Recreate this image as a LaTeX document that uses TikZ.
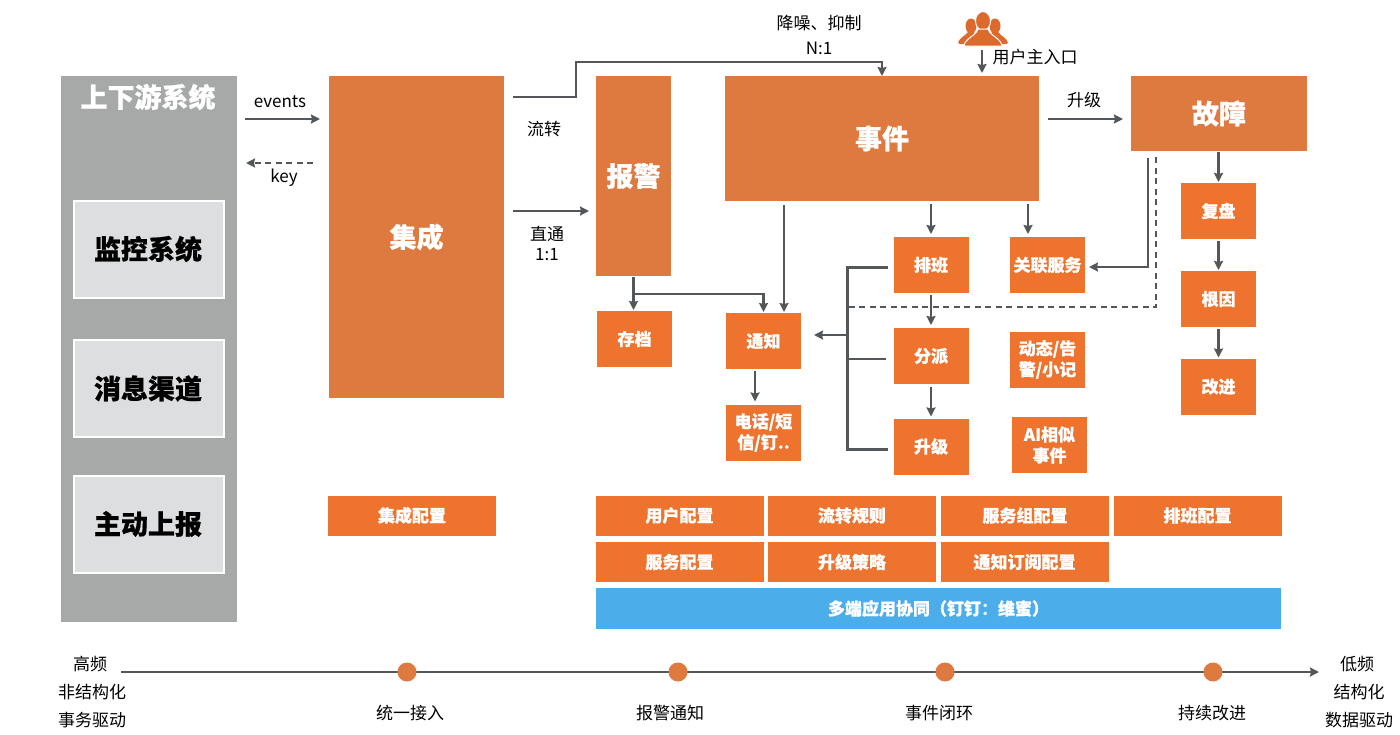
\documentclass[tikz,border=0pt]{standalone}
\usepackage{fontspec}
\setmainfont{Noto Sans CJK SC}[BoldFeatures={FakeBold=0.6}]
\usetikzlibrary{arrows.meta}
\definecolor{bigorange}{HTML}{DE7A40}
\definecolor{smallorange}{HTML}{ED732E}
\definecolor{panelgray}{HTML}{A7A9A9}
\definecolor{innergray}{HTML}{DCDEE0}
\definecolor{linegray}{HTML}{54575A}
\definecolor{bandblue}{HTML}{4BADEA}
\definecolor{dotorange}{HTML}{DE7A40}
\definecolor{iconorange}{HTML}{DB6A2C}
\tikzset{
  box/.style={inner sep=0pt,outer sep=0pt,align=center,text=white,font=\bfseries},
  bigbox/.style={box,fill=bigorange,font=\fontsize{27}{32}\selectfont\bfseries},
  smallbox/.style={box,fill=smallorange,minimum width=75pt,minimum height=56pt,font=\fontsize{17}{21}\selectfont\bfseries},
  confbox/.style={box,fill=smallorange,minimum width=168pt,minimum height=40pt,font=\fontsize{17}{21}\selectfont\bfseries},
  sysbox/.style={box,fill=innergray,draw=white,line width=2pt,minimum width=150pt,minimum height=97pt,text=black,font=\fontsize{27}{32}\selectfont\bfseries},
  lbl/.style={inner sep=0pt,align=center,text=black,font=\fontsize{17}{25}\selectfont},
  flow/.style={draw=linegray,line width=2.6pt,-{Stealth[length=9pt,width=9pt,inset=1pt]}},
  bus/.style={draw=linegray,line width=3pt},
  dashline/.style={draw=linegray,line width=2.4pt,dash pattern=on 6pt off 4.5pt},
  dot/.style={circle,fill=dotorange,inner sep=0pt,minimum size=19pt}
}
\begin{document}
\begin{tikzpicture}[x=1pt,y=-1pt]
\useasboundingbox (0,0) rectangle (1400,734);
\node [box,fill=panelgray,minimum width=176pt,minimum height=546pt] (shangxia) at (149,349) {};
\node [box,font=\fontsize{27}{32}\selectfont\bfseries] (shangxiat) at (148,97) {上下游系统};
\node [sysbox] (jiankong) at (149,249) {\hspace*{-2pt}监控系统};
\node [sysbox] (xiaoxi) at (149,388.5) {\hspace*{-2pt}消息渠道};
\node [sysbox] (zhudong) at (149,524) {\hspace*{-2pt}主动上报};
\node [bigbox,minimum width=175pt,minimum height=322pt] (jicheng) at (416.5,237) {集成};
\node [bigbox,minimum width=75pt,minimum height=200pt] (baojing) at (633.5,176) {报警};
\node [bigbox,minimum width=314pt,minimum height=125pt] (shijian) at (882,138.5) {事件};
\node [bigbox,minimum width=176pt,minimum height=75pt] (guzhang) at (1219,113.5) {故障};
\node [smallbox] (cundang) at (634.5,339) {存档};
\node [smallbox] (tongzhi) at (763.5,341) {通知};
\node [smallbox] (dianhua) at (763.5,432.5) {电话/短\\信/钉..};
\node [smallbox] (paiban) at (931,265) {排班};
\node [smallbox] (fenpai) at (931,356) {分派};
\node [smallbox] (shengji) at (931,446.5) {升级};
\node [smallbox] (guanlian) at (1047.5,265) {关联服务};
\node [smallbox] (dongtai) at (1047.5,359.5) {动态/告\\警/小记};
\node [smallbox] (aisim) at (1049.5,445) {AI相似\\事件};
\node [smallbox] (fupan) at (1218.5,211) {复盘};
\node [smallbox] (genyin) at (1218.5,299) {根因};
\node [smallbox] (gaijin) at (1218.5,386.5) {改进};
\node [confbox] (cjicheng) at (412,515.5) {集成配置};
\node [confbox] (cyonghu) at (679.5,515.5) {用户配置};
\node [confbox] (cliuzhuan) at (852,515.5) {流转规则};
\node [confbox] (cfuwuzu) at (1025,515.5) {服务组配置};
\node [confbox] (cpaiban) at (1197.5,515.5) {排班配置};
\node [confbox] (cfuwu) at (679.5,562) {服务配置};
\node [confbox] (cshengji) at (852,562) {升级策略};
\node [confbox] (cdingyue) at (1024.5,562) {通知订阅配置};
\node [box,fill=bandblue,minimum width=685pt,minimum height=41pt,font=\fontsize{17}{21}\selectfont\bfseries] (duoduan) at (938.5,608.5) {多端应用协同（钉钉：维蜜）};
\node [lbl] (levents) at (280,102) {events};
\node [lbl] (lkey) at (284,178) {key};
\node [lbl] (lliuzhuan) at (544,129) {流转};
\node [lbl,font=\fontsize{17}{20}\selectfont] (lzhitong) at (547,243) {直通\\1:1};
\node [lbl] (ljiangzao) at (819,34.5) {降噪、抑制\\N:1};
\node [lbl] (lrukou) at (1035,57) {用户主入口};
\node [lbl] (lshengji) at (1084,100) {升级};
\node [lbl,font=\fontsize{17}{28}\selectfont] (lgao) at (92,692) {\hspace*{-4pt}高频\\非结构化\\事务驱动};
\node [lbl,font=\fontsize{17}{28}\selectfont] (ldi) at (1359,692) {\hspace*{-4pt}低频\\结构化\\数据驱动};
\node [lbl] (lzhang1) at (410,713) {统一接入};
\node [lbl] (lzhang2) at (670,713) {报警通知};
\node [lbl] (lzhang3) at (939,713) {事件闭环};
\node [lbl] (lzhang4) at (1212,713) {持续改进};
\coordinate (tlstart) at (121,672);
\coordinate (tlend) at (1319,672);
\draw [flow] (tlstart) -- (tlend);
\node [dot] (dot1) at (407,672) {};
\node [dot] (dot2) at (678,672) {};
\node [dot] (dot3) at (945,672) {};
\node [dot] (dot4) at (1213,672) {};
\coordinate (yevents) at (0,119);
\coordinate (ykey) at (0,163);
\coordinate (yzhitong) at (0,211);
\coordinate (yliuzhuan) at (0,97);
\coordinate (yliutop) at (576,62);
\coordinate (xuser) at (982,50);
\coordinate (xhuan) at (1148,0);
\coordinate (xdash) at (1156,0);
\coordinate (xbus) at (847,0);
\coordinate (xtz) at (755,0);
\coordinate (xbj) at (784,0);
\coordinate (ydash) at (0,307);
\coordinate (ybranch) at (0,294);
\coordinate (ytz) at (0,335);
\coordinate (yfenpai) at (0,359);
\coordinate (ypaiban) at (0,267);
\coordinate (yshengji) at (0,449);
\coordinate (xgl) at (1028,0);
\draw [flow,shorten <=8pt,shorten >=9pt] (shangxia.east |- yevents) -- (jicheng.west |- yevents);
\draw [flow,dash pattern=on 6pt off 4.5pt,shorten <=16pt,shorten >=9pt] (jicheng.west |- ykey) -- (shangxia.east |- ykey);
\draw [flow,shorten <=9pt,shorten >=7pt] (jicheng.east |- yzhitong) -- (baojing.west |- yzhitong);
\draw [flow,shorten <=9pt] (jicheng.east |- yliuzhuan) -- (yliutop |- yliuzhuan) -- (yliutop) -- (shijian.north |- yliutop) -- (shijian.north);
\draw [flow,shorten <=9pt,shorten >=8pt] (shijian.east |- yevents) -- (guzhang.west |- yevents);
\draw [flow,shorten >=3pt] (xuser) -- (xuser |- shijian.north);
\draw [flow,shorten <=1pt,shorten >=1pt] (baojing.south) -- (baojing.south |- cundang.north);
\draw [flow,shorten >=1pt] (baojing.south |- ybranch) -- (tongzhi.north |- ybranch) -- (tongzhi.north);
\draw [flow,shorten <=4pt,shorten >=1pt] (xbj |- shijian.south) -- (xbj |- tongzhi.north);
\draw [flow,shorten <=3pt,shorten >=3pt] (paiban.north |- shijian.south) -- (paiban.north);
\draw [flow,shorten <=3pt,shorten >=3pt] (xgl |- shijian.south) -- (xgl |- guanlian.north);
\draw [flow,shorten <=7pt,shorten >=4pt] (xhuan |- guzhang.south) -- (xhuan |- ypaiban) -- (guanlian.east |- ypaiban);
\draw [dashline,shorten <=6pt] (xdash |- guzhang.south) -- (xdash |- ydash) -- (xbus |- ydash);
\draw [bus,shorten <=6pt] (paiban.west |- ypaiban) -- (xbus |- ypaiban) -- (xbus |- yshengji) -- ([xshift=-6pt]shengji.west |- yshengji);
\draw [bus,line width=2.4pt,shorten <=8pt] (fenpai.west |- yfenpai) -- (xbus |- yfenpai);
\draw [flow,shorten >=13pt] (xbus |- ytz) -- (tongzhi.east |- ytz);
\draw [flow,shorten <=2pt,shorten >=3pt] (paiban.south) -- (fenpai.north);
\draw [flow,shorten <=3pt,shorten >=2pt] (fenpai.south) -- (shengji.north);
\draw [flow,shorten <=2pt,shorten >=3pt] (xtz |- tongzhi.south) -- (xtz |- dianhua.north);
\draw [flow,shorten <=1pt,shorten >=1pt] (guzhang.south -| fupan.north) -- (fupan.north);
\draw [flow,shorten <=2pt,shorten >=1pt] (fupan.south) -- (genyin.north);
\draw [flow,shorten <=2pt,shorten >=1pt] (genyin.south) -- (gaijin.north);
\fill [iconorange] (971,26) ellipse (5.5pt and 7.5pt);
\fill [iconorange] (995,26) ellipse (5.5pt and 7.5pt);
\fill [iconorange] (958,43) .. controls (959,38) and (965,36) .. (968,32) -- (974,32) -- (980,44) -- (960,44) -- cycle;
\fill [iconorange] (1008,43) .. controls (1007,38) and (1001,36) .. (998,32) -- (992,32) -- (986,44) -- (1006,44) -- cycle;
\fill [iconorange,draw=white,line width=1pt] (983,21) ellipse (7.5pt and 9.5pt);
\fill [iconorange,draw=white,line width=1pt] (964,46) .. controls (965,38) and (975,37) .. (978,29) -- (988,29) .. controls (991,37) and (1001,38) .. (1002,46) -- cycle;
\end{tikzpicture}
\end{document}
